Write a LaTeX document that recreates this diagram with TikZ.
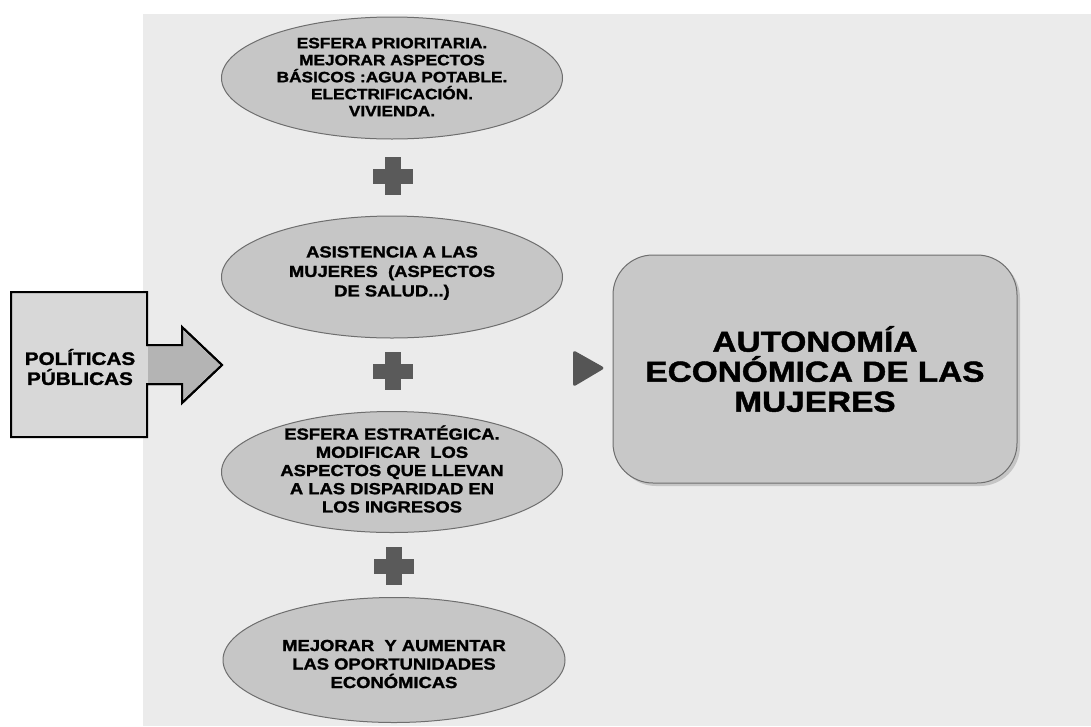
\documentclass[tikz,border=0pt]{standalone}
\usepackage{fontspec}
\setmainfont{Liberation Sans}
\newfontfamily\blk{Liberation Sans}[FakeStretch=1.15, BoldFeatures={FakeBold=1.5}]
\usetikzlibrary{shapes.geometric,shadows}
\definecolor{bgc}{HTML}{EBEBEB}
\definecolor{ovalc}{HTML}{C6C6C6}
\definecolor{ovaledge}{HTML}{6E6E6E}
\definecolor{boxc}{HTML}{D8D8D8}
\definecolor{arrc}{HTML}{B4B4B4}
\definecolor{rectc}{HTML}{C8C8C8}
\definecolor{plusc}{HTML}{5A5A5A}
\definecolor{tric}{HTML}{555555}
\begin{document}
\begin{tikzpicture}[x=1pt,y=-1pt,
  oval/.style={ellipse, fill=ovalc, draw=ovaledge, line width=1pt, minimum width=341pt, inner sep=0pt},
  etext/.style={align=center, text=black, inner sep=0pt},
  plussign/.pic={\fill[plusc] (-20,-7.5) rectangle (20,7.5); \fill[plusc] (-8,-19) rectangle (8,19);},
  rbox/.style={rounded corners=40pt, fill=rectc, draw=ovaledge, line width=1pt, minimum width=404pt, minimum height=228pt,
     drop shadow={shadow xshift=3pt, shadow yshift=-3pt, opacity=0.35}, align=center}
]
\useasboundingbox (0,0) rectangle (1091,726);
\fill[bgc] (143,14) rectangle (1091,726);

% left box with arrow
\draw[fill=boxc, line width=2pt, line join=miter]
  (11,292) -- (147,292) -- (147,345) -- (182,345) -- (182,327) -- (222,365)
  -- (182,403) -- (182,384) -- (147,384) -- (147,437) -- (11,437) -- cycle;
\fill[arrc] (148,346) -- (183,346) -- (183,330) -- (220,365) -- (183,400) -- (183,383) -- (148,383) -- cycle;
\draw[line width=2pt, line join=miter] (147,345) -- (182,345) -- (182,327) -- (222,365) -- (182,403) -- (182,384) -- (147,384);
\node[etext, font=\blk\bfseries\fontsize{18}{20}\selectfont] (pp) at (80,367) {POLÍTICAS\\PÚBLICAS};

% ellipses
\node[oval, minimum height=122pt] (e1) at (392,78) {};
\node[etext, font=\blk\bfseries\fontsize{15}{17}\selectfont] (t1) at (392,77)
  {ESFERA PRIORITARIA.\\MEJORAR ASPECTOS\\BÁSICOS :AGUA POTABLE.\\ELECTRIFICACIÓN.\\VIVIENDA.};

\node[oval, minimum height=122pt] (e2) at (392,277) {};
\node[etext, font=\blk\bfseries\fontsize{16}{19.5}\selectfont] (t2) at (392,273)
  {ASISTENCIA A LAS\\MUJERES\ \ (ASPECTOS\\DE SALUD...)};

\node[oval, minimum height=121pt] (e3) at (392,472) {};
\node[etext, font=\blk\bfseries\fontsize{16}{18.2}\selectfont] (t3) at (392,469)
  {ESFERA ESTRATÉGICA.\\MODIFICAR\ \ LOS\\ASPECTOS QUE LLEVAN\\A LAS DISPARIDAD EN\\LOS INGRESOS};

\node[oval, minimum height=125pt, minimum width=342pt] (e4) at (394,660) {};
\node[etext, font=\blk\bfseries\fontsize{16}{18.5}\selectfont] (t4) at (394,664)
  {MEJORAR\ \ Y AUMENTAR\\LAS OPORTUNIDADES\\ECONÓMICAS};

% plus signs
\pic at (393,176) {plussign};
\pic at (393,371) {plussign};
\pic at (394,566) {plussign};

% small triangle
\fill[tric, rounded corners=3pt] (573,350) -- (605,368) -- (573,387) -- cycle;

% result box
\node[rbox, font=\blk\bfseries\fontsize{29}{30}\selectfont] (aut) at (815,369)
  {AUTONOMÍA\\ECONÓMICA DE LAS\\MUJERES};
\end{tikzpicture}
\end{document}
